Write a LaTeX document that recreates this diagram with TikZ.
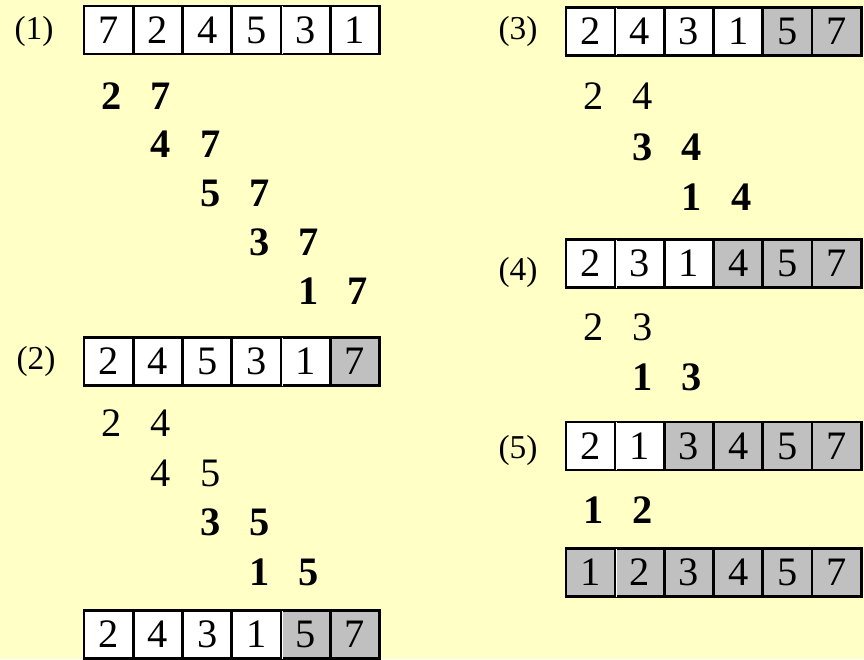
\documentclass[tikz,border=0pt]{standalone}
\usepackage{fontspec}
\setmainfont{Liberation Serif}
\usepackage{tikz}
\definecolor{paper}{HTML}{FFFFC6}
\definecolor{done}{HTML}{C0C0C0}

\begin{document}
\begin{tikzpicture}[x=0.02cm,y=-0.02cm,
  cell/.style={draw,line width=1.5pt,fill=white,minimum width=0.985cm,
    minimum height=0.96cm,inner sep=0pt,font=\fontsize{23}{23}\selectfont},
  sorted/.style={cell,fill=done},
  pair/.style={inner sep=0pt,font=\fontsize{23}{23}\selectfont},
  hot/.style={pair,font=\fontsize{23}{23}\selectfont\bfseries},
  tag/.style={inner sep=0pt,font=\fontsize{19}{19}\selectfont},
  split/.style={white,line width=0.5pt}]
 \clip (0,0) rectangle (864,659);
 \fill[paper] (0,0) rectangle (864,659);
 % left column
 \node[tag] (t1) at (34,31) {(1)};
 \foreach \v/\s [count=\i] in {7/cell,2/cell,4/cell,5/cell,3/cell,1/cell}
  \node[\s] (a1-\i) at ({84+49.25*(\i-0.5)},30) {\v};
 \draw[split] ([yshift=-0.75pt]a1-4.north east) -- ([yshift=0.75pt]a1-4.south east);
 \foreach \l/\r/\k/\y in {2/7/1/96,4/7/2/144,5/7/3/193,3/7/4/242,1/7/5/291} {
  \node[hot] (b1-\k l) at ({87+49.25*(\k-0.5)},\y) {\l};
  \node[hot] (b1-\k r) at ({87+49.25*(\k+0.5)},\y) {\r};
 }
 \node[tag] (t2) at (36,361) {(2)};
 \foreach \v/\s [count=\i] in {2/cell,4/cell,5/cell,3/cell,1/cell,7/sorted}
  \node[\s] (a2-\i) at ({84+49.25*(\i-0.5)},361.5) {\v};
 \draw[split] ([yshift=-0.75pt]a2-4.north east) -- ([yshift=0.75pt]a2-4.south east);
 \foreach \l/\r/\k/\y/\s in {2/4/1/423/pair,4/5/2/473/pair,3/5/3/522/hot,1/5/4/572/hot} {
  \node[\s] (b2-\k l) at ({87+49.25*(\k-0.5)},\y) {\l};
  \node[\s] (b2-\k r) at ({87+49.25*(\k+0.5)},\y) {\r};
 }
 \foreach \v/\s [count=\i] in {2/cell,4/cell,3/cell,1/cell,5/sorted,7/sorted}
  \node[\s] (a2e-\i) at ({84+49.25*(\i-0.5)},634.5) {\v};
 \draw[split] ([yshift=-0.75pt]a2e-4.north east) -- ([yshift=0.75pt]a2e-4.south east);
 % right column
 \node[tag] (t3) at (518,31) {(3)};
 \foreach \v/\s [count=\i] in {2/cell,4/cell,3/cell,1/cell,5/sorted,7/sorted}
  \node[\s] (a3-\i) at ({566+49.2*(\i-0.5)},31.5) {\v};
 \draw[split] ([yshift=-0.75pt]a3-1.north east) -- ([yshift=0.75pt]a3-1.south east);
 \foreach \l/\r/\k/\y/\s in {2/4/1/96/pair,3/4/2/147/hot,1/4/3/197/hot} {
  \node[\s] (b3-\k l) at ({569+49.2*(\k-0.5)},\y) {\l};
  \node[\s] (b3-\k r) at ({569+49.2*(\k+0.5)},\y) {\r};
 }
 \node[tag] (t4) at (518,272) {(4)};
 \foreach \v/\s [count=\i] in {2/cell,3/cell,1/cell,4/sorted,5/sorted,7/sorted}
  \node[\s] (a4-\i) at ({566+49.2*(\i-0.5)},263.5) {\v};
 \draw[split] ([yshift=-0.75pt]a4-1.north east) -- ([yshift=0.75pt]a4-1.south east);
 \foreach \l/\r/\k/\y/\s in {2/3/1/327/pair,1/3/2/377/hot} {
  \node[\s] (b4-\k l) at ({569+49.2*(\k-0.5)},\y) {\l};
  \node[\s] (b4-\k r) at ({569+49.2*(\k+0.5)},\y) {\r};
 }
 \node[tag] (t5) at (518,450) {(5)};
 \foreach \v/\s [count=\i] in {2/cell,1/cell,3/sorted,4/sorted,5/sorted,7/sorted}
  \node[\s] (a5-\i) at ({566+49.2*(\i-0.5)},446) {\v};
 \draw[split] ([yshift=-0.75pt]a5-1.north east) -- ([yshift=0.75pt]a5-1.south east);
 \node[hot] (b5-1l) at ({569+49.2*0.5},510) {1};
 \node[hot] (b5-1r) at ({569+49.2*1.5},510) {2};
 \foreach \v/\s [count=\i] in {1/sorted,2/sorted,3/sorted,4/sorted,5/sorted,7/sorted}
  \node[\s] (a5e-\i) at ({566+49.2*(\i-0.5)},572.5) {\v};
 \draw[split] ([yshift=-0.75pt]a5e-1.north east) -- ([yshift=0.75pt]a5e-1.south east);
\end{tikzpicture}
\end{document}
